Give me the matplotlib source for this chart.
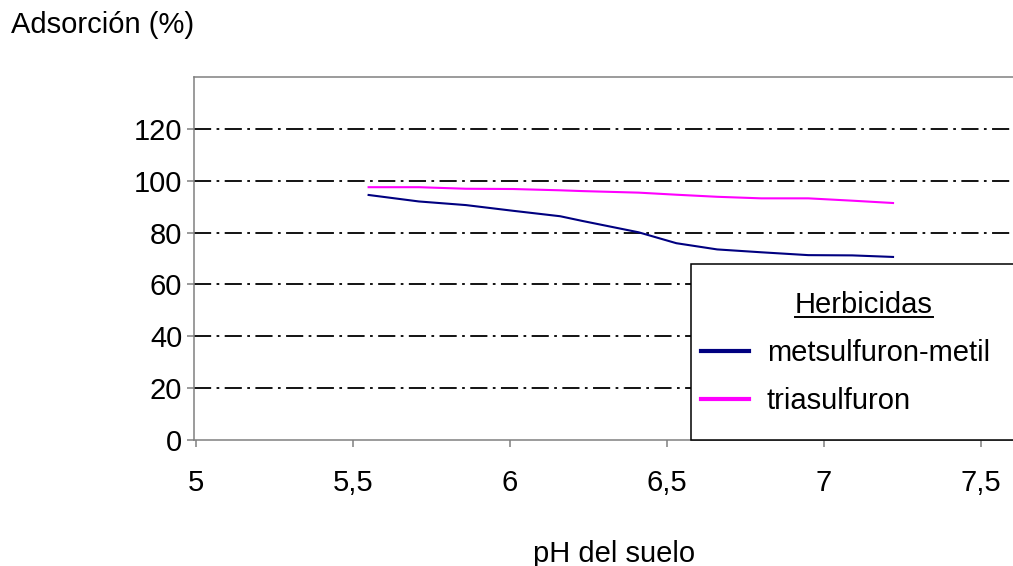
import matplotlib
matplotlib.use('Agg')
import matplotlib.pyplot as plt
from matplotlib.lines import Line2D
from matplotlib.patches import Rectangle

plt.rcParams['font.family'] = ['Liberation Sans', 'DejaVu Sans']

# datos
ph = [5.55, 5.71, 5.86, 6.01, 6.16, 6.23, 6.41, 6.53, 6.66, 6.80, 6.95, 7.09, 7.22]
metsulfuron = [94.5, 92.0, 90.6, 88.4, 86.3, 84.5, 80.1, 75.9, 73.5, 72.4, 71.3, 71.2, 70.6]
triasulfuron = [97.5, 97.5, 96.9, 96.8, 96.3, 96.0, 95.4, 94.6, 93.8, 93.2, 93.2, 92.3, 91.4]

xticks = [5, 5.5, 6, 6.5, 7, 7.5]
xtick_labels = ['5', '5,5', '6', '6,5', '7', '7,5']
yticks = [0, 20, 40, 60, 80, 100, 120]

W, H = 1013, 566
fs = 21

fig = plt.figure(figsize=(W/100, H/100), dpi=100)
ax = fig.add_axes([194/W, 1-440/H, 1-194/W, (440-77)/H])

ax.plot(ph, metsulfuron, color='#000080', lw=1.5, zorder=3)
ax.plot(ph, triasulfuron, color='#FF00FF', lw=1.5, zorder=3)

ax.set_xlim(4.994, 7.602)
ax.set_ylim(0, 140)
ax.set_xticks(xticks)
ax.set_xticklabels(xtick_labels)
ax.set_yticks(yticks)
ax.tick_params(axis='both', labelsize=fs, color='#808080', width=1.1, length=5)
ax.tick_params(axis='x', pad=16)
ax.tick_params(axis='y', pad=3.5)

ax.yaxis.grid(True, color='black', lw=1.3, linestyle=(0, (9.5, 3, 1.5, 3)))
ax.get_ygridlines()[0].set_visible(False)
ax.set_axisbelow(True)

for s in ['left', 'top', 'bottom']:
    ax.spines[s].set_color('#808080')
    ax.spines[s].set_linewidth(1.1)
ax.spines['right'].set_visible(False)

fig.text(11/W, 1-33/H, 'Adsorción (%)', fontsize=fs, va='baseline', ha='left')
fig.text(614/W, 1-562/H, 'pH del suelo', fontsize=fs, va='baseline', ha='center')

# caja de la leyenda
caja = Rectangle((691/W, 1-440/H), 0.4, (440-264)/H, transform=fig.transFigure,
                 facecolor='white', edgecolor='black', lw=1.1, zorder=4, clip_on=False)
ax.add_patch(caja)

handles = [Line2D([], [], color='#000080', lw=3),
           Line2D([], [], color='#FF00FF', lw=3)]
leg = ax.legend(handles, ['metsulfuron-metil', 'triasulfuron'],
                fontsize=fs, frameon=False, loc='upper left',
                bbox_to_anchor=(701/W, 1-339/H), bbox_transform=fig.transFigure,
                borderpad=0, borderaxespad=0, handlelength=1.65, handletextpad=0.6,
                labelspacing=0.7)
leg.set_zorder(5)

# titulo de la leyenda subrayado
titulo = fig.text(864/W, 1-313/H, 'Herbicidas', fontsize=fs, va='baseline', ha='center', zorder=6)
fig.canvas.draw()
bb = titulo.get_window_extent()
fig.add_artist(Line2D([bb.x0/W, bb.x1/W], [(H-317)/H, (H-317)/H],
                      transform=fig.transFigure, color='black', lw=1.4, zorder=6))

plt.savefig('out.png', dpi=100)
